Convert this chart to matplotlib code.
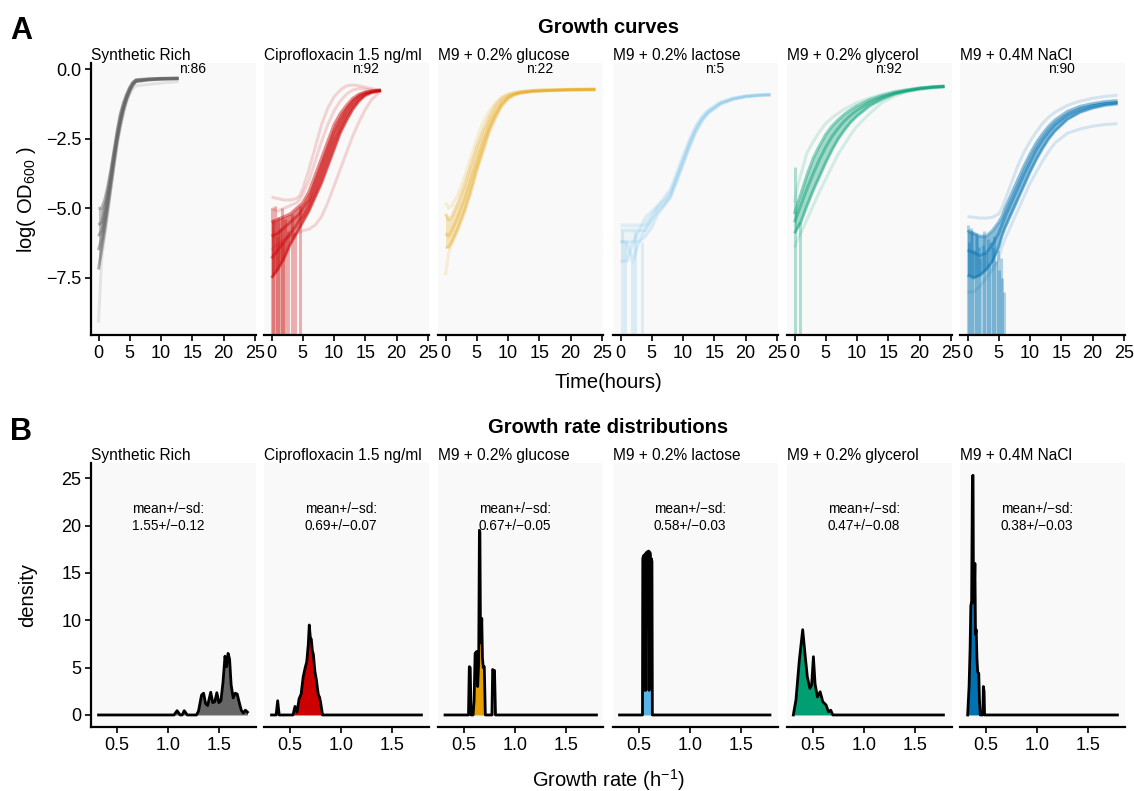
import numpy as np
import matplotlib.pyplot as plt

plt.rcParams['font.family'] = ['Liberation Sans', 'DejaVu Sans']
plt.rcParams['mathtext.fontset'] = 'custom'
plt.rcParams['mathtext.rm'] = 'Liberation Sans'
plt.rcParams['mathtext.default'] = 'rm'

conditions = ["Synthetic Rich", "Ciprofloxacin 1.5 ng/ml", "M9 + 0.2% glucose",
              "M9 + 0.2% lactose", "M9 + 0.2% glycerol", "M9 + 0.4M NaCl"]
colors = ["#666666", "#CC0000", "#E69F00", "#56B4E9", "#009E73", "#0072B2"]
n_wells = [86, 92, 22, 5, 92, 90]
rate_mean = [1.55, 0.69, 0.67, 0.58, 0.47, 0.38]
rate_sd = [0.12, 0.07, 0.05, 0.03, 0.08, 0.03]

# ---- growth curves: hours vs log(OD600), dense bundle + stray wells ----
sr_t = [0, 0.5, 1, 1.5, 2, 2.5, 3, 3.5, 4, 4.5, 5, 5.5, 6, 8, 10, 12.8]
sr_core = [
    [-5.0, -5.0, -4.7, -4.2, -3.6, -2.9, -2.2, -1.6, -1.2, -0.9, -0.65, -0.47, -0.38, -0.35, -0.33, -0.32],
    [-5.6, -5.5, -5.0, -4.4, -3.7, -3.0, -2.3, -1.7, -1.3, -0.95, -0.7, -0.5, -0.4, -0.36, -0.34, -0.33],
    [-6.0, -5.8, -5.3, -4.6, -3.9, -3.1, -2.4, -1.8, -1.35, -1.0, -0.72, -0.52, -0.42, -0.37, -0.35, -0.33],
    [-6.5, -6.1, -5.5, -4.8, -4.0, -3.2, -2.5, -1.9, -1.4, -1.05, -0.78, -0.55, -0.43, -0.38, -0.35, -0.34],
    [-7.2, -6.5, -5.8, -5.0, -4.2, -3.4, -2.6, -2.0, -1.5, -1.1, -0.8, -0.58, -0.45, -0.39, -0.36, -0.35],
]
sr_faint = [
    [-9.1, -6.8, -6.0, -5.2, -4.3, -3.5, -2.7, -2.1, -1.6, -1.2, -0.9, -0.7, -0.6, -0.55, -0.5, -0.45],
]
sr_streak_t = []
sr_streak_top = []

cip_t = [0, 1, 2, 3, 4, 4.5, 5, 6, 7, 8, 9, 10, 11, 12, 13, 14, 15, 16, 17.5]
cip_core = [
    [-5.5, -5.4, -5.3, -5.2, -5.0, -4.9, -4.8, -4.4, -3.8, -3.2, -2.6, -2.0, -1.6, -1.3, -1.05, -0.9, -0.82, -0.78, -0.75],
    [-6.0, -5.9, -5.7, -5.5, -5.3, -5.2, -5.0, -4.7, -4.1, -3.5, -2.9, -2.3, -1.85, -1.45, -1.15, -0.95, -0.85, -0.8, -0.76],
    [-6.8, -6.5, -6.2, -5.9, -5.6, -5.4, -5.3, -4.9, -4.4, -3.8, -3.2, -2.6, -2.1, -1.65, -1.3, -1.05, -0.9, -0.82, -0.77],
    [-7.5, -7.2, -6.8, -6.3, -5.9, -5.7, -5.5, -5.1, -4.6, -4.1, -3.5, -2.9, -2.3, -1.85, -1.45, -1.15, -0.95, -0.85, -0.78],
]
cip_faint = [
    [-4.6, -4.65, -4.7, -4.7, -4.65, -4.55, -4.3, -3.6, -2.8, -2.0, -1.4, -1.0, -0.75, -0.6, -0.57, -0.6, -0.65, -0.7, -0.76],
    [-5.0, -5.1, -5.0, -4.9, -4.8, -4.7, -4.5, -4.0, -3.3, -2.6, -2.0, -1.5, -1.15, -0.9, -0.75, -0.7, -0.72, -0.75, -0.77],
    [-6.5, -6.3, -6.1, -6.0, -5.9, -5.85, -5.8, -5.75, -5.6, -5.3, -4.8, -4.2, -3.6, -3.0, -2.4, -1.9, -1.45, -1.1, -0.78],
]
cip_streak_t = [0, 0.3, 0.6, 0.9, 1.1, 1.4, 1.6, 1.9, 2.2, 2.6, 3.2, 3.8, 4.57]
cip_streak_top = [-5.0, -5.4, -4.9, -6.0, -5.3, -5.7, -5.0, -6.2, -5.4, -5.8, -5.2, -5.9, -4.9]

glu_t = [0, 0.5, 1, 2, 3, 4, 5, 6, 7, 8, 9, 10, 11, 12, 14, 16, 20, 24]
glu_core = [
    [-5.2, -5.4, -5.3, -4.8, -4.2, -3.5, -2.8, -2.2, -1.7, -1.3, -1.05, -0.92, -0.85, -0.81, -0.77, -0.75, -0.73, -0.72],
    [-5.9, -6.0, -5.8, -5.3, -4.7, -4.0, -3.3, -2.6, -2.0, -1.55, -1.2, -1.0, -0.9, -0.84, -0.79, -0.77, -0.74, -0.73],
    [-6.4, -6.4, -6.2, -5.7, -5.1, -4.4, -3.6, -2.9, -2.2, -1.7, -1.3, -1.05, -0.92, -0.86, -0.8, -0.78, -0.75, -0.74],
]
glu_faint = [
    [-4.8, -5.0, -4.9, -4.5, -3.9, -3.2, -2.5, -1.9, -1.5, -1.2, -1.0, -0.9, -0.84, -0.8, -0.76, -0.74, -0.72, -0.71],
    [-7.4, -6.6, -6.3, -5.8, -5.2, -4.5, -3.7, -3.0, -2.3, -1.8, -1.35, -1.1, -0.95, -0.87, -0.81, -0.78, -0.75, -0.74],
]
glu_streak_t = []
glu_streak_top = []

lac_t = [0, 1, 2, 3, 4, 5, 6, 7, 8, 9, 10, 11, 12, 13, 14, 16, 18, 20, 22, 24]
lac_core = [
    [-5.6, -5.6, -5.6, -5.6, -5.6, -5.2, -4.9, -4.7, -4.4, -3.8, -3.2, -2.6, -2.1, -1.75, -1.5, -1.2, -1.05, -0.97, -0.93, -0.91],
    [-6.2, -6.2, -6.2, -5.8, -5.8, -5.4, -5.0, -4.8, -4.5, -3.9, -3.3, -2.7, -2.2, -1.8, -1.55, -1.22, -1.07, -0.98, -0.94, -0.92],
    [-6.9, -6.9, -6.2, -6.2, -5.7, -5.4, -5.1, -4.9, -4.6, -4.0, -3.4, -2.8, -2.25, -1.85, -1.58, -1.25, -1.08, -0.99, -0.95, -0.93],
    [-5.8, -5.8, -5.8, -5.8, -5.3, -5.1, -4.9, -4.6, -4.3, -3.7, -3.1, -2.55, -2.05, -1.7, -1.47, -1.18, -1.03, -0.96, -0.92, -0.9],
    [-6.2, -6.2, -6.9, -6.2, -6.0, -5.7, -5.2, -4.9, -4.6, -4.05, -3.45, -2.85, -2.3, -1.9, -1.6, -1.27, -1.1, -1.0, -0.96, -0.94],
]
lac_faint = []
lac_streak_t = [0.2, 0.7, 1.8, 2.3, 3.4]
lac_streak_top = [-5.8, -6.2, -6.9, -5.8, -6.2]

gly_t = [0, 0.5, 1, 2, 3, 4, 5, 6, 7, 8, 9, 10, 12, 14, 16, 18, 20, 22, 24]
gly_core = [
    [-5.2, -4.8, -4.5, -3.8, -3.2, -2.75, -2.35, -2.05, -1.82, -1.62, -1.46, -1.32, -1.1, -0.95, -0.83, -0.75, -0.68, -0.64, -0.61],
    [-5.5, -5.2, -4.9, -4.3, -3.75, -3.25, -2.8, -2.42, -2.12, -1.86, -1.65, -1.48, -1.2, -1.0, -0.86, -0.77, -0.7, -0.65, -0.62],
    [-5.9, -5.7, -5.5, -4.9, -4.35, -3.85, -3.35, -2.9, -2.5, -2.18, -1.9, -1.68, -1.32, -1.08, -0.9, -0.79, -0.71, -0.66, -0.63],
]
gly_faint = [
    [-4.8, -4.2, -3.8, -3.0, -2.6, -2.25, -1.95, -1.75, -1.58, -1.44, -1.32, -1.2, -1.04, -0.9, -0.8, -0.73, -0.67, -0.63, -0.6],
    [-6.4, -6.1, -5.9, -5.4, -4.9, -4.4, -3.95, -3.5, -3.05, -2.7, -2.35, -2.05, -1.6, -1.2, -0.97, -0.82, -0.73, -0.68, -0.65],
]
gly_streak_t = [0.0, 0.8]
gly_streak_top = [-3.5, -5.5]

nacl_t = [0, 1, 2, 3, 4, 5, 5.5, 6, 7, 8, 9, 10, 11, 12, 13, 14, 16, 18, 20, 22, 24]
nacl_core = [
    [-5.8, -5.9, -6.0, -6.0, -5.8, -5.5, -5.3, -5.0, -4.5, -4.0, -3.5, -3.05, -2.65, -2.33, -2.05, -1.83, -1.52, -1.34, -1.24, -1.17, -1.13],
    [-6.5, -6.6, -6.7, -6.6, -6.3, -5.9, -5.6, -5.3, -4.8, -4.3, -3.8, -3.35, -2.9, -2.55, -2.25, -2.0, -1.65, -1.45, -1.32, -1.24, -1.2],
    [-7.4, -7.5, -7.4, -7.2, -6.9, -6.4, -6.0, -5.7, -5.2, -4.7, -4.2, -3.7, -3.25, -2.85, -2.5, -2.22, -1.8, -1.55, -1.4, -1.3, -1.25],
]
nacl_faint = [
    [-5.3, -5.32, -5.35, -5.35, -5.32, -5.2, -5.0, -4.7, -4.1, -3.5, -3.0, -2.6, -2.25, -1.95, -1.72, -1.55, -1.3, -1.15, -1.05, -0.98, -0.94],
    [-8.0, -8.0, -7.8, -7.5, -7.2, -6.8, -6.4, -6.1, -5.6, -5.1, -4.6, -4.1, -3.7, -3.3, -2.95, -2.65, -2.3, -2.15, -2.05, -1.99, -1.96],
]
nacl_streak_t = [0, 0.3, 0.5, 0.7, 1.0, 1.3, 1.5, 1.8, 2.0, 2.4, 2.7, 3.0, 3.3, 3.5, 3.8, 4.0,
                 4.3, 4.5, 4.8, 5.0, 5.3, 5.5, 5.9]
nacl_streak_top = [-5.6, -6.2, -5.7, -5.8, -6.5, -5.9, -6.0, -6.4, -6.8, -6.3, -5.8, -6.6, -6.1, -7.0, -6.2, -6.4,
                   -6.0, -6.9, -6.5, -7.2, -6.8, -7.5, -8.0]

# ---- growth rate densities ----
sr_rate = [0.32, 1.06, 1.08, 1.09, 1.10, 1.12, 1.14, 1.16, 1.17, 1.19, 1.28, 1.30, 1.33, 1.35, 1.37,
           1.39, 1.42, 1.44, 1.46, 1.48, 1.50, 1.52, 1.54, 1.56, 1.575, 1.59, 1.605, 1.62, 1.64,
           1.66, 1.68, 1.70, 1.72, 1.74, 1.76, 1.78]
sr_dens = [0, 0, 0.3, 0.45, 0.3, 0, 0, 0.45, 0.3, 0, 0, 0.4, 2.1, 2.3, 1.2,
           1.0, 2.4, 1.3, 1.4, 2.35, 1.3, 1.5, 3.4, 6.2, 5.1, 6.5, 5.9, 3.2, 1.8,
           2.3, 2.2, 1.3, 0.5, 0.2, 0.5, 0.3]

cip_rate = [0.32, 0.365, 0.38, 0.395, 0.53, 0.55, 0.57, 0.59, 0.61, 0.63, 0.65, 0.665, 0.68,
            0.69, 0.70, 0.71, 0.72, 0.73, 0.745, 0.76, 0.77, 0.78, 0.79, 0.80, 0.82, 1.79]
cip_dens = [0, 0, 1.5, 0, 0, 0.9, 0.3, 1.7, 2.2, 4.0, 5.0, 5.6, 7.4,
            9.5, 8.2, 8.0, 6.8, 6.4, 4.6, 3.7, 2.8, 2.1, 1.9, 1.4, 0, 0]

glu_rate = [0.315, 0.545, 0.553, 0.562, 0.57, 0.59, 0.60, 0.61, 0.625, 0.635, 0.645, 0.652,
            0.657, 0.662, 0.668, 0.675, 0.682, 0.69, 0.70, 0.71, 0.775, 0.782, 0.795, 0.80,
            0.81, 1.80]
glu_dens = [0, 0, 5.1, 5.0, 0, 0, 1.5, 6.5, 6.7, 3.0, 5.5, 19.5,
            19.3, 9.5, 7.6, 10.2, 6.0, 5.0, 5.1, 0, 0, 4.8, 4.6, 4.7,
            0, 0]

lac_rate = [0.31, 0.535, 0.538, 0.545, 0.55, 0.556, 0.562, 0.567, 0.572, 0.578, 0.583, 0.588,
            0.594, 0.60, 0.606, 0.612, 0.617, 0.622, 0.628, 0.632, 1.785]
lac_dens = [0, 0, 16.5, 16.8, 2.6, 16.9, 17.0, 2.6, 17.1, 17.2, 9.3, 17.2,
            17.3, 2.6, 17.2, 17.0, 3.0, 16.5, 16.2, 0, 0]

gly_rate = [0.308, 0.334, 0.367, 0.40, 0.422, 0.445, 0.462, 0.471, 0.488, 0.505, 0.521, 0.544,
            0.571, 0.597, 0.629, 0.652, 0.675, 0.695, 1.78]
gly_dens = [0, 1.6, 5.8, 9.0, 6.5, 4.05, 3.2, 2.8, 3.2, 6.15, 3.3, 1.9,
            2.45, 1.4, 1.05, 0.35, 0.5, 0, 0]

nacl_rate = [0.321, 0.328, 0.335, 0.345, 0.352, 0.36, 0.368, 0.374, 0.378, 0.385, 0.392, 0.398,
             0.405, 0.412, 0.42, 0.43, 0.437, 0.445, 0.47, 0.475, 0.482, 0.487, 1.79]
nacl_dens = [0, 1.5, 3.0, 7.0, 11.5, 12.0, 25.2, 25.3, 12.5, 11.8, 16.0, 8.5,
             9.0, 6.0, 4.5, 4.4, 1.5, 0, 0, 3.0, 2.5, 0, 0]

curve_t = [sr_t, cip_t, glu_t, lac_t, gly_t, nacl_t]
curve_core = [sr_core, cip_core, glu_core, lac_core, gly_core, nacl_core]
curve_faint = [sr_faint, cip_faint, glu_faint, lac_faint, gly_faint, nacl_faint]
streak_t = [sr_streak_t, cip_streak_t, glu_streak_t, lac_streak_t, gly_streak_t, nacl_streak_t]
streak_top = [sr_streak_top, cip_streak_top, glu_streak_top, lac_streak_top, gly_streak_top, nacl_streak_top]
rate_x = [sr_rate, cip_rate, glu_rate, lac_rate, gly_rate, nacl_rate]
rate_y = [sr_dens, cip_dens, glu_dens, lac_dens, gly_dens, nacl_dens]

# per-panel line strength (few wells -> lighter)
line_alpha = [0.5, 0.45, 0.3, 0.15, 0.45, 0.45]
band_alpha = [0.4, 0.5, 0.25, 0.08, 0.35, 0.45]
streak_alpha = [0.2, 0.3, 0.2, 0.18, 0.3, 0.3]

W, H = 1134, 791
fig = plt.figure(figsize=(W / 100, H / 100), dpi=100)

lefts = [91, 264, 438, 613, 787, 960]
pw = 165
bg = "#F9F9F9"


def style_axis(ax, first):
    ax.set_facecolor(bg)
    for s in ["top", "right"]:
        ax.spines[s].set_visible(False)
    ax.spines["bottom"].set_linewidth(1.6)
    ax.spines["left"].set_linewidth(1.6)
    if not first:
        ax.spines["left"].set_visible(False)
        ax.tick_params(axis="y", left=False, labelleft=False)
    ax.tick_params(direction="out", length=4, width=1.2, labelsize=13, pad=3, colors="black")


top_axes = []
bot_axes = []
for i in range(6):
    x0 = lefts[i] / W
    ax = fig.add_axes([x0, 1 - 335 / H, pw / W, 272 / H])
    top_axes.append(ax)
    ax2 = fig.add_axes([x0, 1 - 727 / H, pw / W, 264 / H])
    bot_axes.append(ax2)

for i, ax in enumerate(top_axes):
    c = colors[i]
    t = np.array(curve_t[i])
    core = np.array(curve_core[i])
    ax.fill_between(t, core.min(axis=0), core.max(axis=0), color=c, alpha=band_alpha[i], lw=0)
    for tt, top in zip(streak_t[i], streak_top[i]):
        ax.vlines(tt, -12, top, color=c, alpha=streak_alpha[i], lw=2.2)
    for y in curve_core[i]:
        ax.plot(t, y, color=c, alpha=line_alpha[i], lw=2.2, solid_capstyle="butt")
    for y in curve_faint[i]:
        ax.plot(t, y, color=c, alpha=0.15, lw=2.2, solid_capstyle="butt")
    ax.set_xlim(-1.2, 25.2)
    ax.set_ylim(-9.55, 0.22)
    ax.set_xticks([0, 5, 10, 15, 20, 25])
    ax.set_yticks([0, -2.5, -5, -7.5])
    ax.yaxis.set_major_formatter(plt.FuncFormatter(lambda v, p: f"{v:.1f}".replace("-", "\u2212")))
    style_axis(ax, i == 0)
    ax.text(0, 1.011, conditions[i], transform=ax.transAxes, ha="left", va="baseline", fontsize=11.2)
    ax.text(15, 0.0, f"n:{n_wells[i]}", ha="center", va="center", fontsize=10)

for i, ax in enumerate(bot_axes):
    c = colors[i]
    ax.fill_between(rate_x[i], rate_y[i], 0, color=c, lw=0)
    ax.plot(rate_x[i], rate_y[i], color="black", lw=2.0)
    ax.set_xlim(0.246, 1.864)
    ax.set_ylim(-1.27, 26.6)
    ax.set_xticks([0.5, 1.0, 1.5])
    ax.set_yticks([0, 5, 10, 15, 20, 25])
    style_axis(ax, i == 0)
    ax.text(0, 1.011, conditions[i], transform=ax.transAxes, ha="left", va="baseline", fontsize=11.2)
    ax.text(1.0, 20.85, f"mean+/\u2212sd:\n{rate_mean[i]:.2f}+/\u2212{rate_sd[i]:.2f}",
            ha="center", va="center", fontsize=9.8, linespacing=1.35)

fig.text(10 / W, 1 - 39 / H, "A", fontsize=22, fontweight="bold", va="baseline")
fig.text(10 / W, 1 - 440 / H, "B", fontsize=22, fontweight="bold", va="baseline")
fig.text(608 / W, 1 - 33 / H, "Growth curves", fontsize=14.5, fontweight="bold", ha="center", va="baseline")
fig.text(608 / W, 1 - 433 / H, "Growth rate distributions", fontsize=14.5, fontweight="bold",
         ha="center", va="baseline")
fig.text(608 / W, 1 - 382 / H, "Time(hours)", fontsize=14.5, ha="center", va="center")
fig.text(608 / W, 1 - 780 / H, "Growth rate (h$^{\u22121}$)", fontsize=14.5, ha="center", va="center")
fig.text(26 / W, 1 - 200 / H, "log( OD$_{600}$ )", fontsize=14.5, rotation=90, ha="center", va="center")
fig.text(28 / W, 1 - 595 / H, "density", fontsize=14.5, rotation=90, ha="center", va="center")

fig.savefig("out.png", dpi=100, facecolor="white")
